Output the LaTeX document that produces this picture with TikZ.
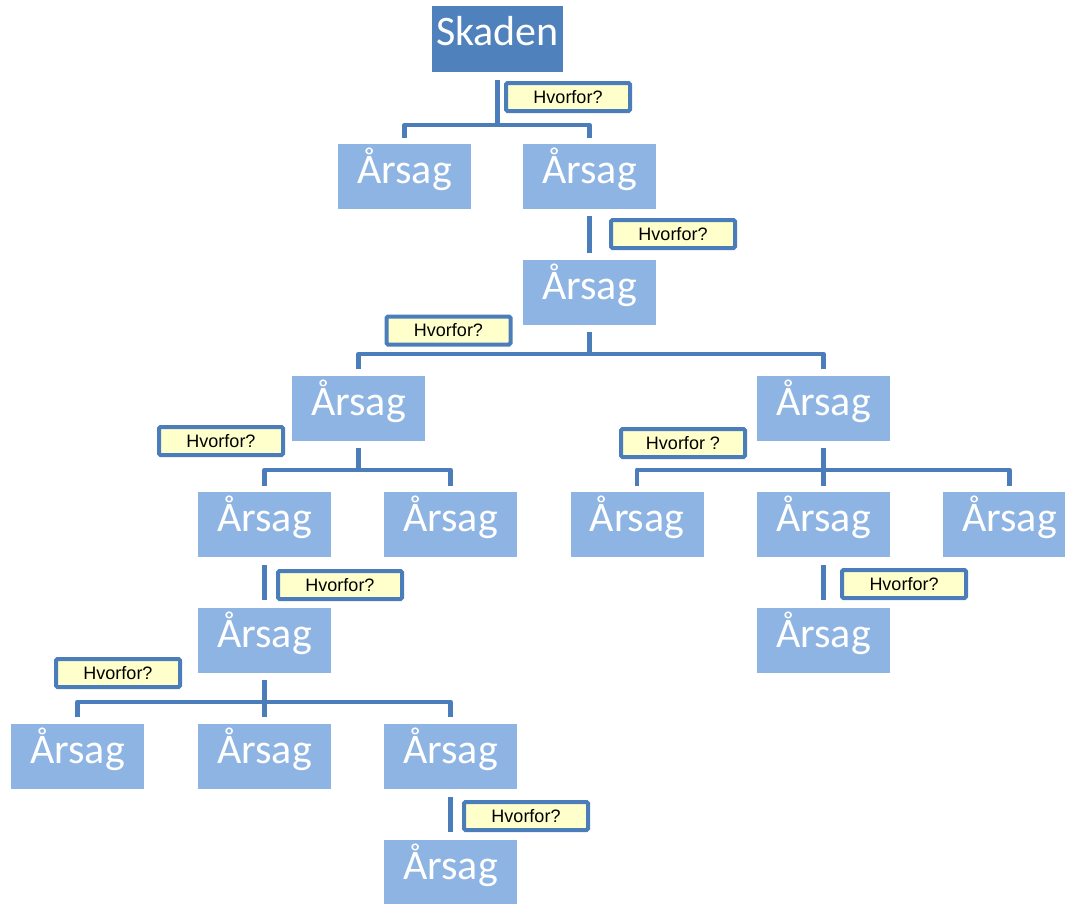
\documentclass[tikz,border=0pt]{standalone}
\usepackage{fontspec}
\setmainfont{Carlito}
\newfontfamily\notefont{Liberation Sans}
\usetikzlibrary{calc}
\definecolor{darkbox}{HTML}{4F81BD}
\definecolor{lightbox}{HTML}{8EB4E3}
\definecolor{linkblue}{HTML}{4A7DBA}
\definecolor{notefill}{HTML}{FFFFCC}
% box captions: baseline a little below the box centre
\newcommand\lifted[1]{\raisebox{-6.5pt}[0pt][0pt]{#1}}
\tikzset{
  cause/.style={fill=lightbox, text=white, minimum width=133pt, minimum height=65pt,
    inner sep=0pt, font=\fontsize{42}{42}\selectfont},
  topbox/.style={cause, fill=darkbox, minimum width=131pt, minimum height=66pt},
  why/.style={draw=linkblue, fill=notefill, line width=4pt, rounded corners=1.5pt,
    minimum width=124pt, minimum height=28pt, inner sep=0pt, text=black,
    font=\notefont\fontsize{18}{18}\selectfont},
  conn/.style={draw=linkblue, line width=4.5pt, line join=round}
}
\begin{document}
\begin{tikzpicture}[x=1pt, y=-1pt]
\useasboundingbox (0,0) rectangle (1065,903);

% root and causes
\node[topbox] (sk) at (497.5,39) {\lifted{Skaden}};
\node[cause] (a1) at (404.5,176.5) {\lifted{Årsag}};
\node[cause] (a2) at (589.5,176.5) {\lifted{Årsag}};
\node[cause] (a3) at (589.5,292.5) {\lifted{Årsag}};
\node[cause] (a4) at (358.5,408.5) {\lifted{Årsag}};
\node[cause] (a5) at (823.5,408.5) {\lifted{Årsag}};
\node[cause] (a6) at (264.5,524.5) {\lifted{Årsag}};
\node[cause] (a7) at (450.5,524.5) {\lifted{Årsag}};
\node[cause] (a8) at (637,524.5) {\lifted{Årsag}};
\node[cause] (a9) at (823.5,524.5) {\lifted{Årsag}};
\node[cause] (a10) at (1009.5,524.5) {\lifted{Årsag}};
\node[cause] (a11) at (264.5,640.5) {\lifted{Årsag}};
\node[cause] (a12) at (823.5,640.5) {\lifted{Årsag}};
\node[cause] (a13) at (77.5,756.5) {\lifted{Årsag}};
\node[cause] (a14) at (264.5,756.5) {\lifted{Årsag}};
\node[cause] (a15) at (450.5,756.5) {\lifted{Årsag}};
\node[cause] (a16) at (450.5,872.5) {\lifted{Årsag}};

% forks: a bar above the children, joined to the parent
\coordinate (b1) at ($(a1.north)+(0,-19)$);
\draw[conn] ([yshift=-8pt]sk.south) -- (sk.south |- b1);
\draw[conn] ([yshift=6pt]a1.north) -- (b1) -| ([yshift=6pt]a2.north);

\draw[conn] ([yshift=-7pt]a2.south) -- ([yshift=7pt]a3.north);

\coordinate (b2) at ($(a4.north)+(0,-22)$);
\draw[conn] ([yshift=-7pt]a3.south) -- (a3.south |- b2);
\draw[conn] ([yshift=7pt]a4.north) -- (b2) -| ([yshift=7pt]a5.north);

\coordinate (b3) at ($(a6.north)+(0,-22)$);
\draw[conn] ([yshift=-7pt]a4.south) -- (a4.south |- b3);
\draw[conn] ([yshift=6pt]a6.north) -- (b3) -| ([yshift=6pt]a7.north);

\coordinate (b4) at ($(a8.north)+(0,-22)$);
\draw[conn] ([yshift=-7pt]a5.south) -- ([yshift=6pt]a9.north);
\draw[conn] ([yshift=6pt]a8.north) -- (b4) -| ([yshift=6pt]a10.north);

\draw[conn] ([yshift=-8pt]a6.south) -- ([yshift=8pt]a11.north);
\draw[conn] ([yshift=-8pt]a9.south) -- ([yshift=8pt]a12.north);

\coordinate (b5) at ($(a13.north)+(0,-22)$);
\draw[conn] ([yshift=-7pt]a11.south) -- ([yshift=7pt]a14.north);
\draw[conn] ([yshift=7pt]a13.north) -- (b5) -| ([yshift=7pt]a15.north);

\draw[conn] ([yshift=-8pt]a15.south) -- ([yshift=8pt]a16.north);

% question labels
\node[why] (q1) at (568,97) {Hvorfor?};
\node[why] (q2) at (673,234) {Hvorfor?};
\node[why] (q3) at (448.5,330.5) {Hvorfor?};
\node[why] (q4) at (221,441) {Hvorfor?};
\node[why] (q5) at (683,443) {Hvorfor ?};
\node[why] (q6) at (340,585) {Hvorfor?};
\node[why] (q7) at (904,584) {Hvorfor?};
\node[why] (q8) at (118,673) {Hvorfor?};
\node[why] (q9) at (526,816) {Hvorfor?};
\end{tikzpicture}
\end{document}
